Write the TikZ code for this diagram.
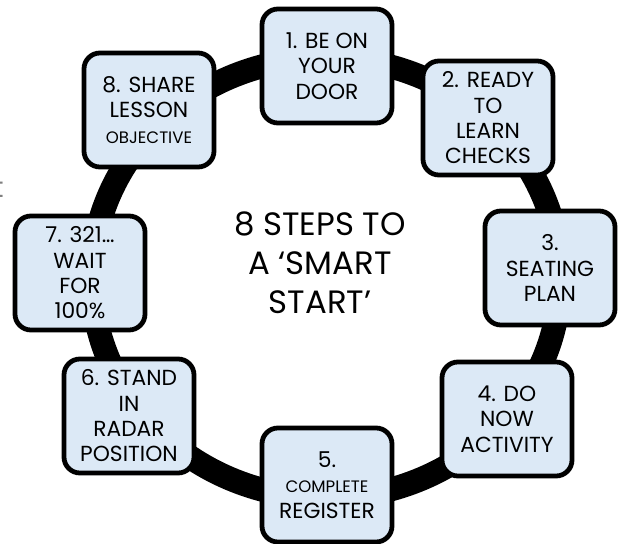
\documentclass[tikz,border=0pt]{standalone}
\usepackage{fontspec}
\setmainfont{Poppins}
\definecolor{cardblue}{RGB}{220,233,246}
\tikzset{
  ring-line/.style={
    line width=17pt,
    draw=black
  },
  step-card/.style={
    draw=black,
    line width=3.4pt,
    fill=cardblue,
    rounded corners=0.4cm,
    minimum width=3.25cm,
    minimum height=2.85cm,
    inner sep=2pt,
    align=center,
    font=\fontsize{15.5}{18}\selectfont
  },
  title-text/.style={align=center, font=\fontsize{23}{27.7}\selectfont},
  edge-text/.style={text=gray, inner sep=0pt, font=\fontsize{20}{24}\selectfont}
}
\newcommand{\smallword}[1]{{\fontsize{11.8}{18}\selectfont #1}}

\begin{document}
\begin{tikzpicture}[x=0.025cm, y=-0.025cm]
  \useasboundingbox (0,0) rectangle (621,544);
  % ring behind the cards
  \draw[ring-line] (326,278) ellipse [x radius=234, y radius=220];
  % the eight steps
  \node[step-card] (s1) at (327,66) {1. BE ON\\YOUR\\DOOR};
  \node[step-card] (s2) at (488,118) {2. READY\\TO\\LEARN\\CHECKS};
  \node[step-card] (s3) at (550,268) {3.\\SEATING\\PLAN};
  \node[step-card] (s4) at (507,419) {4. DO\\NOW\\ACTIVITY};
  \node[step-card] (s5) at (327,485) {5.\\\smallword{COMPLETE}\\REGISTER};
  \node[step-card] (s6) at (129,416) {6. STAND\\IN\\RADAR\\POSITION};
  \node[step-card] (s7) at (80,273) {7. 321\ldots\\WAIT\\FOR\\100\%};
  \node[step-card] (s8) at (149,110) {8. SHARE\\LESSON\\\smallword{OBJECTIVE}};
  % centre title
  \node[title-text] (title) at (320,263) {8 STEPS TO\\A ‘SMART\\START’};
  % cut-off letter at the left edge
  \node[edge-text, anchor=base east] (cut) at (4,198) {t};
\end{tikzpicture}
\end{document}
